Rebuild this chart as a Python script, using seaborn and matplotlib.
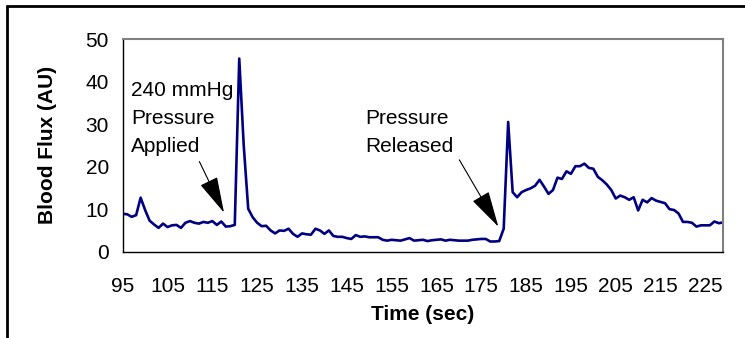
import numpy as np
import pandas as pd
import seaborn as sns
import matplotlib.pyplot as plt
from matplotlib.lines import Line2D

# time in seconds, one reading per second
time_sec = list(range(95, 230))
blood_flux = [
    8.9, 8.8, 8.2, 8.6, 12.7, 9.8, 7.3, 6.4, 5.6, 6.6,      # 95-104
    5.8, 6.2, 6.3, 5.6, 6.8, 7.2, 6.8, 6.6, 7.0, 6.8,       # 105-114
    7.2, 6.3, 7.1, 5.9, 6.0, 6.3, 45.4, 25.0, 10.1, 8.1,    # 115-124
    6.8, 6.0, 6.1, 5.0, 4.3, 5.0, 4.9, 5.4, 4.2, 3.5,       # 125-134
    4.3, 4.1, 4.0, 5.4, 5.0, 4.2, 5.0, 3.7, 3.5, 3.5,       # 135-144
    3.2, 3.0, 3.9, 3.5, 3.6, 3.4, 3.4, 3.4, 2.8, 2.6,       # 145-154
    2.8, 2.7, 2.6, 2.9, 3.2, 2.6, 2.7, 2.8, 2.5, 2.7,       # 155-164
    2.8, 2.9, 2.6, 2.8, 2.7, 2.6, 2.6, 2.6, 2.8, 2.9,       # 165-174
    3.0, 3.0, 2.4, 2.4, 2.5, 5.4, 30.5, 14.0, 12.8, 14.0,   # 175-184
    14.5, 14.9, 15.5, 16.9, 15.3, 13.6, 14.5, 17.4, 17.1, 18.9,  # 185-194
    18.3, 20.1, 20.1, 20.7, 19.7, 19.5, 17.6, 16.8, 15.8, 14.5,  # 195-204
    12.5, 13.2, 12.8, 12.2, 12.8, 9.7, 12.2, 11.6, 12.6, 12.0,   # 205-214
    11.7, 11.4, 10.0, 9.8, 9.0, 7.0, 7.0, 6.8, 5.9, 6.2,    # 215-224
    6.2, 6.2, 7.1, 6.7, 6.9,                                # 225-229
]
x_ticks = list(range(95, 226, 10))
y_ticks = [0, 10, 20, 30, 40, 50]

df = pd.DataFrame({"time": time_sec, "flux": blood_flux})

sns.set_style("white")
plt.rcParams["font.family"] = ["Liberation Sans", "DejaVu Sans"]
plt.rcParams["text.color"] = "black"
plt.rcParams["axes.labelcolor"] = "black"

fig = plt.figure(figsize=(7.45, 3.38), dpi=100)
ax = fig.add_axes([0.1647, 0.2553, 0.8062, 0.6293])

sns.lineplot(data=df, x="time", y="flux", color="#000080", linewidth=1.9, ax=ax)

ax.set_xlim(95, 229)
ax.set_ylim(0, 50)
ax.set_xticks(x_ticks)
ax.set_yticks(y_ticks)
ax.tick_params(axis="both", direction="inout", length=8, width=0.9, color="black",
               labelsize=15, labelcolor="black")
ax.tick_params(axis="x", pad=14)
ax.tick_params(axis="y", pad=6)

for side in ["left", "bottom"]:
    ax.spines[side].set_color("black")
    ax.spines[side].set_linewidth(1.0)
for side in ["top", "right"]:
    ax.spines[side].set_visible(True)
    ax.spines[side].set_color("#808080")
    ax.spines[side].set_linewidth(1.5)

ax.set_xlabel("Time (sec)", fontsize=15, fontweight="bold")
ax.set_ylabel("Blood Flux (AU)", fontsize=15, fontweight="bold")
ax.xaxis.set_label_coords(0.5, -0.25)
ax.yaxis.set_label_coords(-0.11, 0.5)

arrow_kw = dict(arrowstyle="-|>,head_length=2.3,head_width=0.6",
                color="black", lw=0.8, shrinkA=0, shrinkB=0)
ax.text(96.8, 31.4, "240 mmHg\nPressure\nApplied", fontsize=15,
        ha="left", va="center", linespacing=1.6)
ax.annotate("", xy=(117.6, 9.2), xytext=(112.1, 21.2), arrowprops=arrow_kw)
ax.text(149.1, 28.1, "Pressure\nReleased", fontsize=15,
        ha="left", va="center", linespacing=1.6)
ax.annotate("", xy=(178.8, 5.9), xytext=(170.1, 21.6), arrowprops=arrow_kw)

# outer chart frame (cut off at right and bottom)
fig.add_artist(Line2D([7 / 745, 7 / 745], [1 - 6 / 338, 0], transform=fig.transFigure,
                      color="black", lw=2))
fig.add_artist(Line2D([7 / 745, 1], [1 - 6 / 338, 1 - 6 / 338], transform=fig.transFigure,
                      color="black", lw=2))

fig.savefig("out.png", dpi=100)
